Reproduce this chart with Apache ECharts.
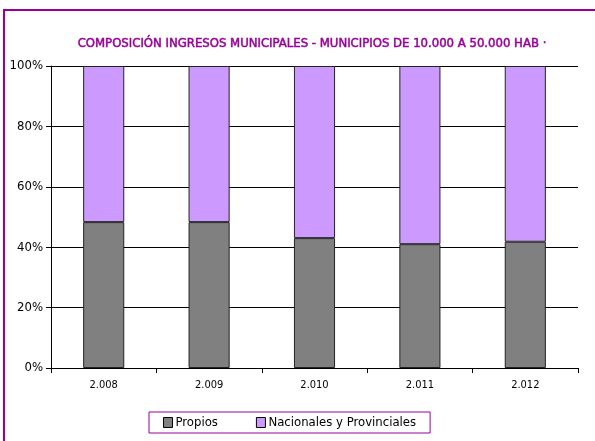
<!DOCTYPE html>
<html>
<head>
<meta charset="utf-8">
<script src="https://cdn.jsdelivr.net/npm/echarts@6/dist/echarts.min.js"></script>
<style>
  html, body { margin: 0; padding: 0; background: #fff; }
  #chart { width: 595px; height: 441px; }
</style>
</head>
<body>
<div id="chart"></div>
<script>
// años
var years = ['2.008', '2.009', '2.010', '2.011', '2.012']
// % ingresos propios
var propios = [48.3, 48.3, 43.0, 41.0, 41.8]
// % nacionales y provinciales
var nacionales = [51.7, 51.7, 57.0, 59.0, 58.2]

var font = '"DejaVu Sans Condensed", sans-serif'

var myChart = echarts.init(document.getElementById('chart'))
var option = {
  backgroundColor: '#fff',
  animation: false,
  title: {
    text: 'COMPOSICIÓN INGRESOS MUNICIPALES - MUNICIPIOS DE 10.000 A 50.000 HAB ·',
    left: 307,
    textAlign: 'center',
    top: 32,
    textStyle: {
      color: '#990099',
      fontFamily: font,
      fontSize: 13,
      fontWeight: 'normal',
      textBorderColor: '#990099',
      textBorderWidth: 0.5
    }
  },
  graphic: [
    {
      type: 'rect',
      shape: { x: 4, y: 10, width: 600, height: 440 },
      style: { fill: 'none', stroke: '#990099', lineWidth: 2 }
    }
  ],
  legend: {
    left: 149,
    top: 412,
    padding: [4, 14, 4, 14],
    icon: 'rect',
    itemWidth: 9,
    itemHeight: 10,
    itemGap: 38,
    borderColor: '#990099',
    borderWidth: 1,
    textStyle: { fontFamily: font, fontSize: 13, color: '#000', padding: [0, 0, 0, -2] },
    data: [
      { name: 'Propios', itemStyle: { borderColor: '#000', borderWidth: 1 } },
      { name: 'Nacionales y Provinciales', itemStyle: { borderColor: '#000', borderWidth: 1 } }
    ]
  },
  grid: {
    left: 51,
    right: 17,
    top: 66,
    bottom: 73
  },
  xAxis: {
    type: 'category',
    data: years,
    axisLine: { lineStyle: { color: '#000', width: 1 } },
    axisTick: { show: true, length: 5, lineStyle: { color: '#000' } },
    axisLabel: { color: '#000', fontFamily: font, fontSize: 11, margin: 12 }
  },
  yAxis: {
    type: 'value',
    min: 0,
    max: 100,
    interval: 20,
    axisLine: { show: true, lineStyle: { color: '#000' } },
    axisTick: { show: true, length: 5, lineStyle: { color: '#000' } },
    axisLabel: { formatter: '{value}%', color: '#000', fontFamily: font, fontSize: 13, margin: 8 },
    splitLine: { show: true, lineStyle: { color: '#000', width: 1 } }
  },
  series: [
    {
      name: 'Propios',
      type: 'bar',
      stack: 'total',
      barWidth: '39%',
      data: propios,
      itemStyle: { color: '#808080', borderColor: '#222', borderWidth: 1 }
    },
    {
      name: 'Nacionales y Provinciales',
      type: 'bar',
      stack: 'total',
      barWidth: '39%',
      data: nacionales,
      itemStyle: { color: '#cc99ff', borderColor: '#222', borderWidth: 1 }
    }
  ]
}
myChart.setOption(option)
</script>
</body>
</html>
